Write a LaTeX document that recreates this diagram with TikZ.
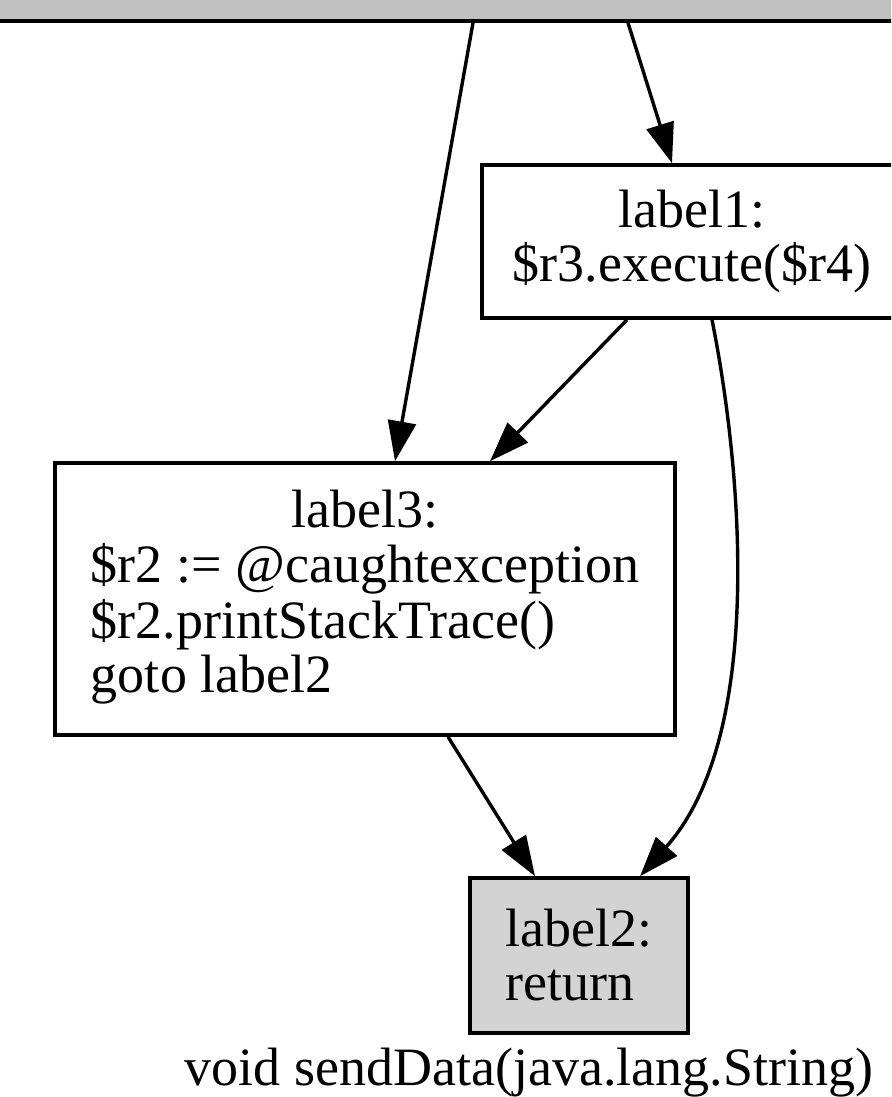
\documentclass[tikz,border=0pt]{standalone}
\usepackage{fontspec}
\setmainfont{Liberation Serif}
\usetikzlibrary{arrows.meta,positioning}
\definecolor{entrygray}{RGB}{192,192,192}
\definecolor{exitgray}{RGB}{211,211,211}
\newcommand{\cfgfont}{\fontsize{54}{54}\selectfont}

\begin{document}
\begin{tikzpicture}[x=1pt,y=-1pt,
    block/.style={draw,line width=3.6pt,inner sep=0pt,font=\cfgfont},
    flow/.style={-{Triangle[length=40pt,width=28pt]},line width=3.4pt}]
  \path[use as bounding box] (0,0) rectangle (891,1097);
  \clip (0,0) rectangle (891,1097);
  % blocks of the control flow graph
  \node[block,fill=entrygray,minimum width=1000pt,minimum height=122pt] (entry) at (445,-40) {};
  \node[block,align=center,minimum width=420pt,minimum height=153pt] (lblone) at (692,241.5)
    {label1:\\\$r3.execute(\$r4)};
  \node[block,minimum width=620pt,minimum height=272pt] (lblthree) at (365,599)
    {\begin{tabular}{@{}l@{}}\multicolumn{1}{@{}c@{}}{label3:}\\ \$r2 := @caughtexception\\ \$r2.printStackTrace()\\ goto label2\end{tabular}};
  \node[block,fill=exitgray,align=left,minimum width=218pt,minimum height=155pt] (lbltwo) at (579,955.5)
    {label2:\\return};
  \node[font=\cfgfont,anchor=base] (caption) at (529,1085) {void sendData(java.lang.String)};
  % edges
  \draw[flow] ([xshift=28pt]entry.south) -- ([xshift=30pt]lblthree.north);
  \draw[flow] ([xshift=183pt]entry.south) -- ([xshift=-20pt]lblone.north);
  \draw[flow] ([xshift=-65pt]lblone.south) -- ([xshift=125pt]lblthree.north);
  \draw[flow] ([xshift=20pt]lblone.south) .. controls +(30,150) and +(125,-140) .. ([xshift=61pt]lbltwo.north);
  \draw[flow] ([xshift=83pt]lblthree.south) -- ([xshift=-44pt]lbltwo.north);
\end{tikzpicture}
\end{document}
